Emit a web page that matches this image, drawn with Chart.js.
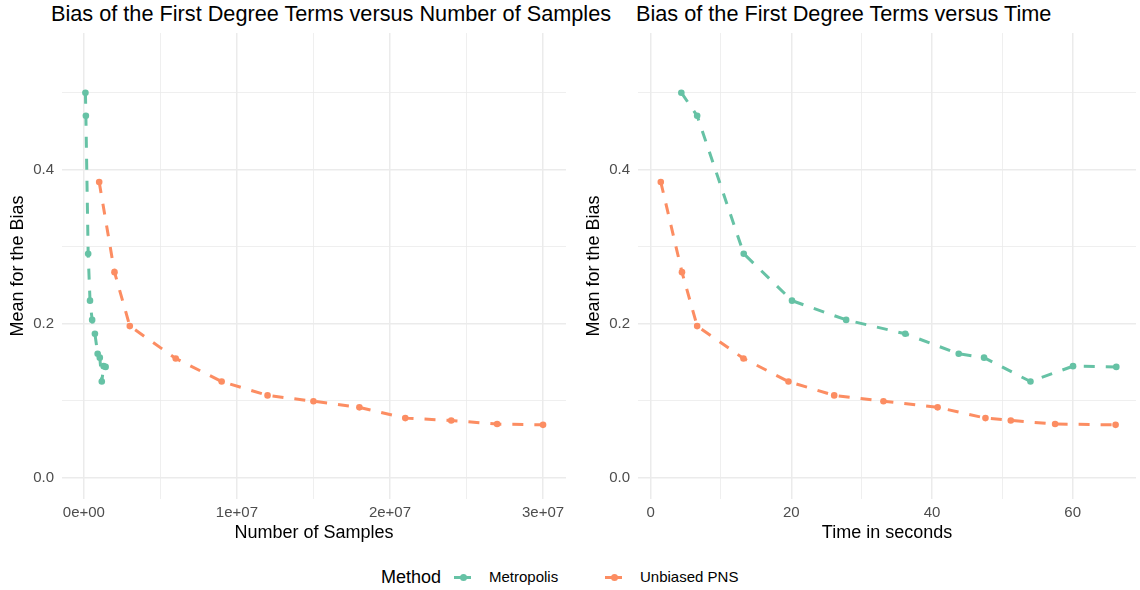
<!DOCTYPE html>
<html lang="en">
<head>
<meta charset="UTF-8">
<title>Bias of the First Degree Terms</title>
<script src="https://cdn.jsdelivr.net/npm/chart.js"></script>
<style>
  body { margin: 0; background: #fff; font-family: "Liberation Sans", Arial, sans-serif; }
  #page { position: relative; width: 1140px; height: 590px; overflow: hidden; }
  .panel { position: absolute; top: 0; }
  .title { position: absolute; top: 2px; font-size: 21.7px; line-height: 24px; color: #000; white-space: nowrap; }
  .legend-title { position: absolute; top: 566px; left: 381px; font-size: 18px; line-height: 22px; }
  .legend-label { position: absolute; top: 568px; font-size: 15px; line-height: 18px; }
  .key { position: absolute; top: 569px; width: 17px; height: 16px; }
  .key .line { position: absolute; left: 0; top: 6.5px; width: 17px; height: 3px; }
  .key .dot { position: absolute; left: 6px; top: 4.5px; width: 7px; height: 7px; border-radius: 50%; }
</style>
</head>
<body>
<div id="page">
  <div class="title" style="left:51px">Bias of the First Degree Terms versus Number of Samples</div>
  <div class="title" style="left:636px">Bias of the First Degree Terms versus Time</div>
  <canvas id="bySamples" class="panel" style="left:0" width="570" height="550"></canvas>
  <canvas id="byTime" class="panel" style="left:570px" width="570" height="550"></canvas>

  <div class="legend-title">Method</div>
  <div class="key" style="left:454px"><div class="line" style="background:#66c2a5"></div><div class="dot" style="background:#66c2a5"></div></div>
  <div class="legend-label" style="left:489px">Metropolis</div>
  <div class="key" style="left:605px"><div class="line" style="background:#fc8d62"></div><div class="dot" style="background:#fc8d62"></div></div>
  <div class="legend-label" style="left:640px">Unbiased PNS</div>
</div>
<script>
// values
const samplesMetropolis = [1.0e5, 1.3e5, 2.8e5, 4.0e5, 5.4e5, 7.2e5, 9.0e5, 1.04e6, 1.17e6, 1.29e6, 1.42e6];
const timeMetropolis    = [4.37, 6.62, 13.24, 20.1, 27.8, 36.2, 43.8, 47.4, 54.0, 60.05, 66.2];
const biasMetropolis    = [0.500, 0.470, 0.291, 0.230, 0.205, 0.187, 0.161, 0.156, 0.125, 0.145, 0.144];

const samplesPNS = [1e6, 2e6, 3e6, 6e6, 9e6, 12e6, 15e6, 18e6, 21e6, 24e6, 27e6, 30e6];
const timePNS    = [1.45, 4.46, 6.62, 13.2, 19.6, 26.1, 33.1, 40.8, 47.6, 51.2, 57.5, 66.1];
const biasPNS    = [0.384, 0.267, 0.197, 0.155, 0.125, 0.107, 0.0995, 0.0915, 0.0775, 0.0745, 0.0698, 0.0688];

const sampleTicks = [0, 1e7, 2e7, 3e7];
const sampleTickLabels = ['0e+00', '1e+07', '2e+07', '3e+07'];
const timeTicks = [0, 20, 40, 60];
const timeTickLabels = ['0', '20', '40', '60'];
const biasTicks = [0, 0.2, 0.4];
const biasTickLabels = ['0.0', '0.2', '0.4'];

const green = '#66c2a5';
const orange = '#fc8d62';
const gridColor = '#ebebeb';
const family = '"Liberation Sans", Arial, sans-serif';

function points(xs, ys) {
    return xs.map((x, i) => ({ x: x, y: ys[i] }));
}

// majors plus the minor lines half way between, kept inside the range
function gridValues(major, min, max) {
    const half = (major[1] - major[0]) / 2;
    const out = [];
    for (let k = -1; k <= (major.length - 1) * 2 + 1; k++) {
        const v = major[0] + k * half;
        if (v >= min && v <= max) out.push(v);
    }
    return out;
}

function majorIndex(v, major) {
    const eps = Math.abs(major[1] - major[0]) * 1e-6;
    return major.findIndex(m => Math.abs(m - v) < eps);
}

function axis(o) {
    return {
        type: 'linear',
        min: o.min,
        max: o.max,
        afterBuildTicks: s => { s.ticks = gridValues(o.major, o.min, o.max).map(v => ({ value: v })); },
        afterFit: s => {
            if (o.width) s.width = o.width;
            if (o.height) s.height = o.height;
        },
        grid: {
            color: gridColor,
            drawTicks: false,
            lineWidth: c => majorIndex(c.tick.value, o.major) >= 0 ? 1.5 : 0.8
        },
        border: { display: false },
        ticks: {
            autoSkip: false,
            maxRotation: 0,
            padding: o.tickPad,
            color: '#4d4d4d',
            font: { family: family, size: 15 },
            callback: v => {
                const i = majorIndex(v, o.major);
                return i < 0 ? '' : o.labels[i];
            }
        },
        title: {
            display: true,
            text: o.title,
            color: '#000',
            font: { family: family, size: 18 },
            padding: o.titlePad
        }
    };
}

function series(label, xs, ys, color, order) {
    return {
        label: label,
        data: points(xs, ys),
        borderColor: color,
        backgroundColor: color,
        borderWidth: 3,
        borderDash: [11, 11],
        borderJoinStyle: 'round',
        pointRadius: 3.3,
        pointBorderWidth: 0,
        pointBackgroundColor: color,
        tension: 0,
        fill: false,
        order: order
    };
}

function panel(id, xAxis, yWidth, yTitlePad, rightPad, metroX, pnsX) {
    new Chart(document.getElementById(id), {
        type: 'line',
        data: {
            datasets: [
                series('Metropolis', metroX, biasMetropolis, green, 2),
                series('Unbiased PNS', pnsX, biasPNS, orange, 1)
            ]
        },
        options: {
            responsive: false,
            animation: false,
            layout: { padding: { left: 0, right: rightPad, top: 33, bottom: 0 } },
            scales: {
                x: xAxis,
                y: axis({
                    min: -0.0275, max: 0.5775, major: biasTicks, labels: biasTickLabels,
                    width: yWidth, tickPad: 8, title: 'Mean for the Bias',
                    titlePad: { top: yTitlePad, bottom: 0 }
                })
            },
            plugins: {
                legend: { display: false },
                tooltip: { enabled: false }
            }
        }
    });
}

panel('bySamples',
    axis({ min: -1.43e6, max: 31.5e6, major: sampleTicks, labels: sampleTickLabels,
           height: 51, tickPad: 5, title: 'Number of Samples', titlePad: { top: 0, bottom: 6 } }),
    62, 7, 2, samplesMetropolis, samplesPNS);

panel('byTime',
    axis({ min: -1.79, max: 69.0, major: timeTicks, labels: timeTickLabels,
           height: 51, tickPad: 5, title: 'Time in seconds', titlePad: { top: 0, bottom: 6 } }),
    68, 13, 0, timeMetropolis, timePNS);
</script>
</body>
</html>
